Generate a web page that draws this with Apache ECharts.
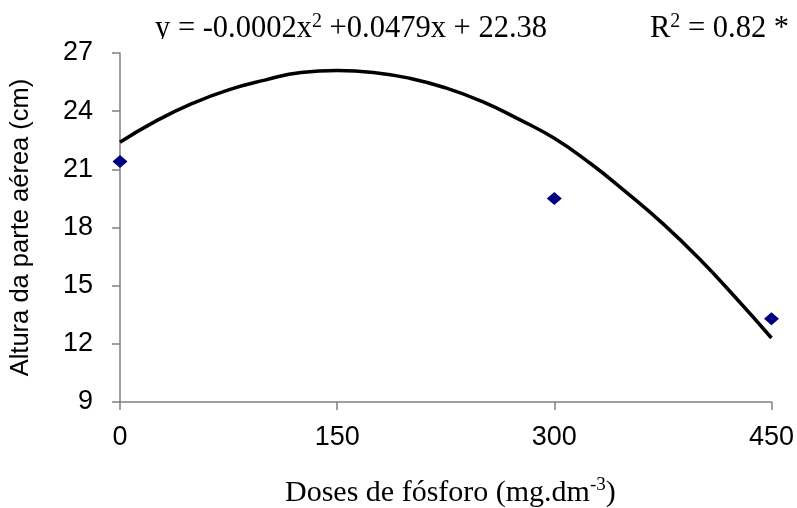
<!DOCTYPE html>
<html><head><meta charset="utf-8">
<script src="https://cdn.jsdelivr.net/npm/echarts@6/dist/echarts.min.js"></script>
<style>html,body{margin:0;padding:0;background:#fff}#c{width:797px;height:508px}</style>
</head><body><div id="c"></div>
<script>
// Observed data (doses, height)
var obsX = [0, 300, 450];
var obsY = [21.4, 19.5, 13.3];
// Trend curve points
var curveX = [0, 25, 50, 75, 100, 125, 150, 175, 200, 225, 250, 275, 300, 325, 350, 375, 400, 425, 450];
var curveY = [22.4, 23.5, 24.4, 25.1, 25.6, 26.0, 26.1, 26.0, 25.7, 25.2, 24.5, 23.6, 22.6, 21.3, 19.8, 18.2, 16.4, 14.4, 12.3];
var xTicks = [0, 150, 300, 450];
var yTicks = [9, 12, 15, 18, 21, 24, 27];

var serif = 'Liberation Serif';
var chart = echarts.init(document.getElementById('c'));
chart.setOption({
  animation: false,
  backgroundColor: '#fff',
  grid: {left: 120, right: 22, top: 53, bottom: 106},
  xAxis: {
    type: 'value', min: xTicks[0], max: xTicks[xTicks.length-1], interval: 150,
    splitLine: {show: false},
    axisLine: {show: true, onZero: false, lineStyle: {color: '#808080', width: 1.5}},
    axisTick: {show: true, length: 8, lineStyle: {color: '#808080', width: 1.5}},
    axisLabel: {color: '#000', fontFamily: 'Liberation Sans', fontSize: 27, margin: 22}
  },
  yAxis: {
    type: 'value', min: yTicks[0], max: yTicks[yTicks.length-1], interval: 3,
    splitLine: {show: false},
    axisLine: {show: true, lineStyle: {color: '#808080', width: 1.5}},
    axisTick: {show: true, length: 8, lineStyle: {color: '#808080', width: 1.5}},
    axisLabel: {color: '#000', fontFamily: 'Liberation Sans', fontSize: 27, margin: 27},
    name: 'Altura da parte aérea (cm)', nameLocation: 'middle', nameGap: 86,
    nameTextStyle: {color: '#000', fontFamily: 'Liberation Sans', fontSize: 25.5}
  },
  graphic: [
    {type: 'text', left: 155, top: 12, z: 10, style: {
      rich: {
        n: {fontFamily: serif, fontSize: 30.5, fill: '#000', lineHeight: 34},
        s: {fontFamily: serif, fontSize: 20, fill: '#000', verticalAlign: 'top', lineHeight: 20}
      },
      text: '{n|y = -0.0002x}{s|2}{n| +0.0479x + 22.38}'
    }},
    {type: 'text', left: 650, top: 12, z: 10, style: {
      rich: {
        n: {fontFamily: serif, fontSize: 30.5, fill: '#000', lineHeight: 34},
        s: {fontFamily: serif, fontSize: 20, fill: '#000', verticalAlign: 'top', lineHeight: 20}
      },
      text: '{n|R}{s|2}{n| = 0.82 *}'
    }},
    {type: 'rect', z: 11, shape: {x: 140, y: 39, width: 657, height: 13}, style: {fill: '#fff'}},
    {type: 'text', left: 285, top: 476, z: 10, style: {
      rich: {
        n: {fontFamily: serif, fontSize: 30, fill: '#000', lineHeight: 34},
        s: {fontFamily: serif, fontSize: 19, fill: '#000', verticalAlign: 'top', lineHeight: 19}
      },
      text: '{n|Doses de fósforo (mg.dm}{s|-3}{n|)}'
    }}
  ],
  series: [
    {type: 'line', data: curveX.map(function(x,i){return [x, curveY[i]];}), smooth: true, showSymbol: false,
      lineStyle: {color: '#000', width: 3.5}, z: 2},
    {type: 'scatter', data: obsX.map(function(x,i){return [x, obsY[i]];}), symbol: 'diamond', symbolSize: [15, 13],
      itemStyle: {color: '#000080', opacity: 1}, z: 3}
  ]
});
</script></body></html>
